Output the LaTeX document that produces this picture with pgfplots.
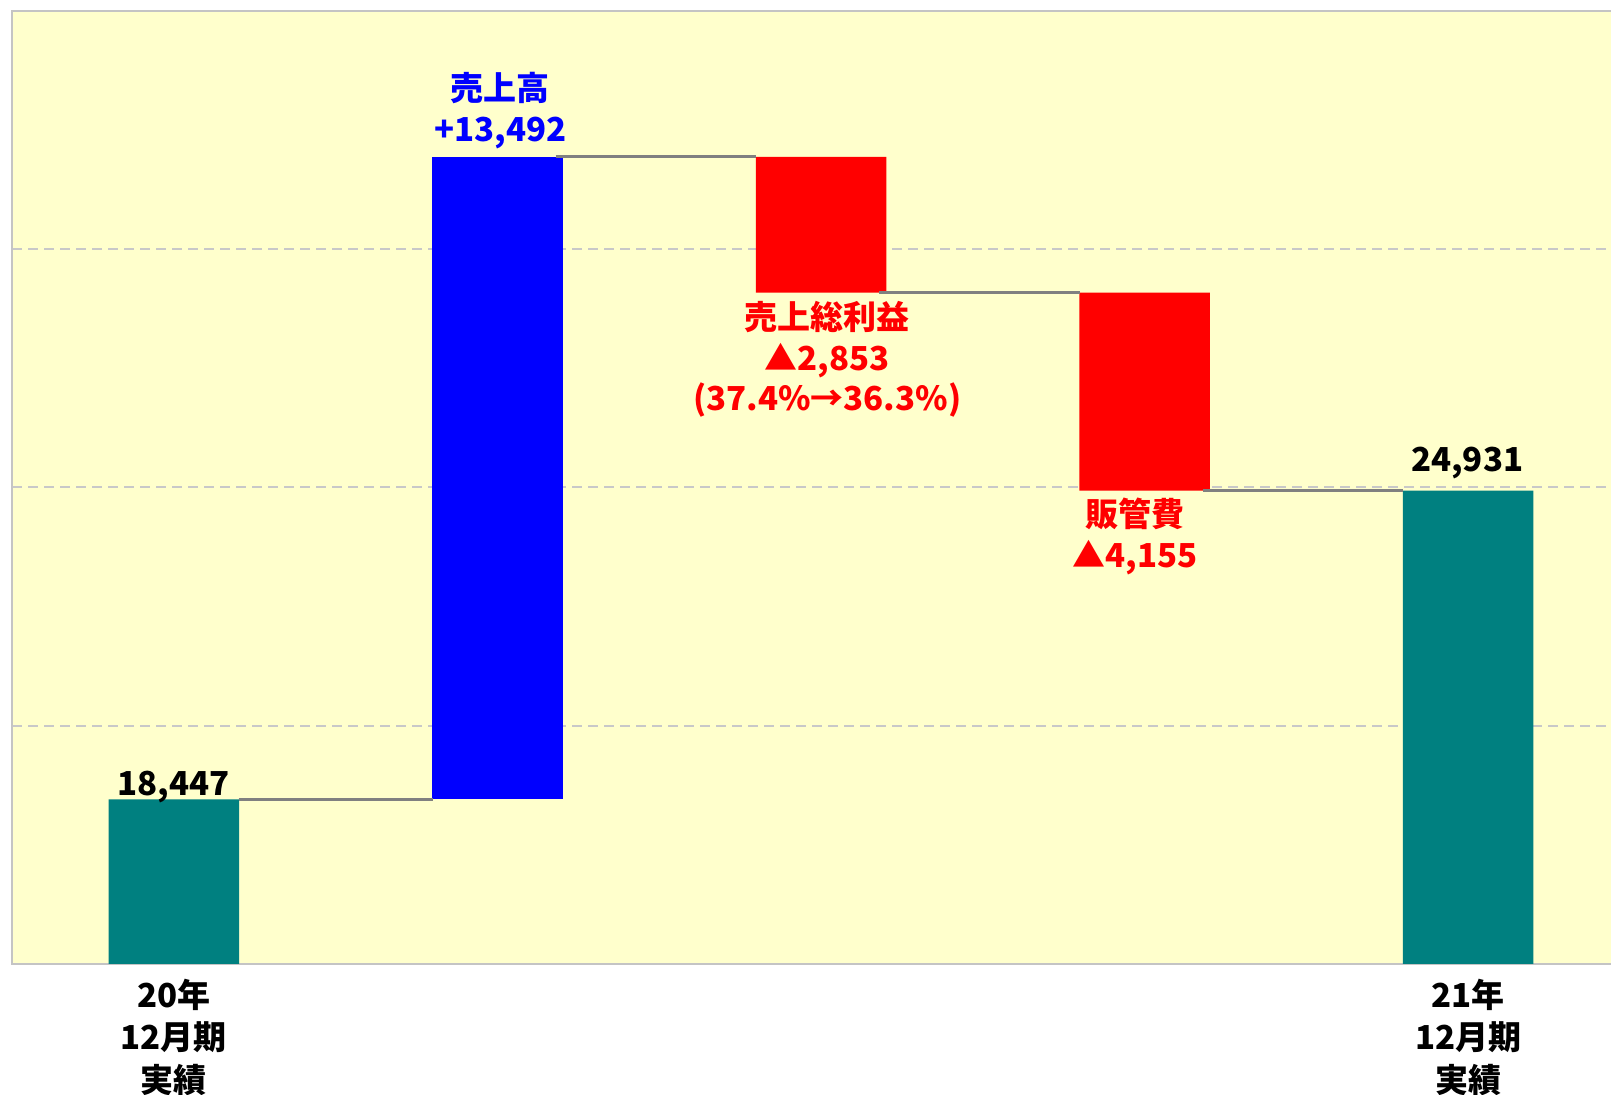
\documentclass[border=0pt]{standalone}
\usepackage{pgfplots}
\pgfplotsset{compat=1.18}
\usepackage{fontspec}
\setmainfont{Noto Sans CJK JP}
\definecolor{bgc}{HTML}{FFFFCC}
\definecolor{tealc}{HTML}{008080}
\definecolor{bluec}{HTML}{0000FF}
\definecolor{redc}{HTML}{FF0000}
\definecolor{connc}{HTML}{808080}
\definecolor{gridc}{HTML}{C8C8C8}
\definecolor{framec}{HTML}{C4C4C4}
\pgfplotsset{common/.style={scale only axis, width=809pt, height=476.35pt,
  xmin=-0.5, xmax=4.5, ymin=15000, ymax=35000, at={(0,0)}, anchor=south west}}
\tikzset{lab/.style={font=\fontsize{16.5}{20.5}\selectfont\bfseries, inner sep=0pt, anchor=center}}
\begin{document}
\begin{tikzpicture}
\begin{axis}[common, name=ax, ybar stacked, bar width=65.25pt,
  axis background/.style={fill=bgc},
  axis line style={draw=framec, line width=1pt},
  xtick=\empty, ytick={20000,25000,30000}, yticklabel=\empty, major tick length=0pt,
  ymajorgrids, grid style={gridc, line width=1pt, dash pattern=on 5pt off 3pt}]
\addplot[draw=none, fill=none] coordinates {(0,0) (1,18447) (2,29086) (3,24931) (4,0)};
\addplot[draw=none, fill=tealc] coordinates {(0,18447) (1,0) (2,0) (3,0) (4,24931)};
\addplot[draw=none, fill=bluec] coordinates {(0,0) (1,13492) (2,0) (3,0) (4,0)};
\addplot[draw=none, fill=redc] coordinates {(0,0) (1,0) (2,2853) (3,4155) (4,0)};
\end{axis}
\begin{axis}[common, hide axis, clip=false]
\addplot[connc, line width=1.4pt] coordinates {(0.2,18447) (0.8,18447)};
\addplot[connc, line width=1.4pt] coordinates {(1.18,31939) (1.8,31939)};
\addplot[connc, line width=1.4pt] coordinates {(2.18,29086) (2.8,29086)};
\addplot[connc, line width=1.4pt] coordinates {(3.18,24931) (3.8,24931)};
\node[lab] at (axis cs:0,18703) {18,447};
\node[lab, text=bluec] at (axis cs:1.009,33378) {売上高};
\node[lab, text=bluec] at (axis cs:1.009,32430) {+13,492};
\node[lab, text=redc] at (axis cs:2.019,28573) {売上総利益};
\node[lab, text=redc] at (axis cs:2.019,27668) {▲2,853};
\node[lab, text=redc] at (axis cs:2.019,26827) {(37.4\%→36.3\%)};
\node[lab, text=redc] at (axis cs:2.97,24437) {販管費};
\node[lab, text=redc] at (axis cs:2.97,23531) {▲4,155};
\node[lab] at (axis cs:3.997,25519) {24,931};
\node[lab] at (axis cs:0,14354) {20年};
\node[lab] at (axis cs:0,13448) {12月期};
\node[lab] at (axis cs:0,12565) {実績};
\node[lab] at (axis cs:4,14354) {21年};
\node[lab] at (axis cs:4,13448) {12月期};
\node[lab] at (axis cs:4,12565) {実績};
\end{axis}
\pgfresetboundingbox
\path[use as bounding box] ([shift={(-6pt,-65.15pt)}]ax.south west) rectangle ([shift={(799.5pt,5.5pt)}]ax.north west);
\end{tikzpicture}
\end{document}
